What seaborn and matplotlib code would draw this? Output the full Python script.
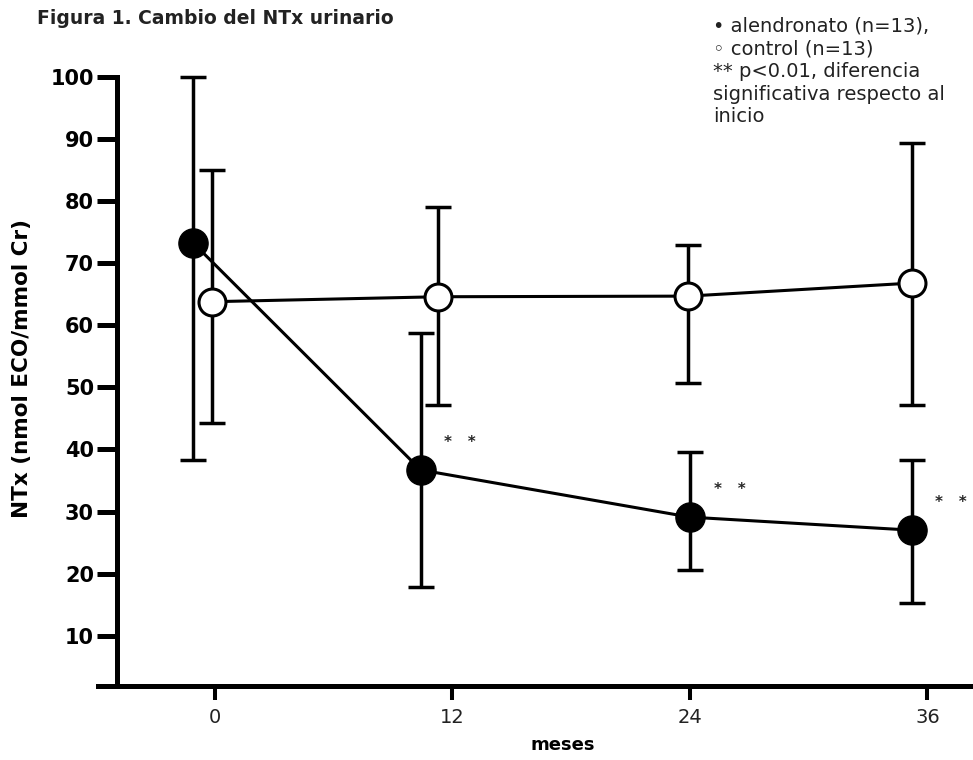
import pandas as pd
import matplotlib
matplotlib.use("Agg")
import matplotlib.pyplot as plt
import seaborn as sns

# values (NTx, nmol ECO/mmol Cr)
meses = [0, 12, 24, 36]
x_alendronato = [-1.1, 10.4, 24.0, 35.2]
alendronato = [73.3, 36.7, 29.1, 27.0]
alendronato_sup = [100.0, 58.8, 39.6, 38.3]
alendronato_inf = [38.3, 17.9, 20.6, 15.3]
x_control = [-0.15, 11.3, 23.9, 35.2]
control = [63.8, 64.6, 64.7, 66.8]
control_sup = [85.0, 79.1, 72.9, 89.4]
control_inf = [44.3, 47.2, 50.7, 47.2]
y_ticks = [10, 20, 30, 40, 50, 60, 70, 80, 90, 100]
significativo = [True, True, True]   # ** at 12, 24, 36 months

df_alen = pd.DataFrame({"mes": x_alendronato, "ntx": alendronato,
                        "inf": alendronato_inf, "sup": alendronato_sup})
df_ctrl = pd.DataFrame({"mes": x_control, "ntx": control,
                        "inf": control_inf, "sup": control_sup})

sns.set_theme(style="ticks")
plt.rcParams['font.family'] = ['DejaVu Sans']

fig = plt.figure(figsize=(9.73, 7.6), dpi=100)
ax = fig.add_axes([0.1007, 0.0974, 0.8993, 0.8013])

# error bars behind the markers
for d in (df_alen, df_ctrl):
    ax.errorbar(d["mes"], d["ntx"], yerr=[d["ntx"] - d["inf"], d["sup"] - d["ntx"]],
                fmt="none", ecolor="black", elinewidth=2.5, capsize=9.7,
                capthick=2.5, zorder=2, clip_on=False)

sns.lineplot(data=df_ctrl, x="mes", y="ntx", ax=ax, estimator=None, sort=False,
             color="black", linewidth=2.2, marker="o", markersize=19.4,
             markerfacecolor="white", markeredgecolor="black",
             markeredgewidth=2.2, zorder=3, legend=False, clip_on=False)
sns.lineplot(data=df_alen, x="mes", y="ntx", ax=ax, estimator=None, sort=False,
             color="black", linewidth=2.2, marker="o", markersize=21,
             markerfacecolor="black", markeredgecolor="black",
             markeredgewidth=1, zorder=4, legend=False, clip_on=False)

# ** marks next to the alendronato points
for i, sig in enumerate(significativo, start=1):
    if sig:
        ax.annotate("*   *", (x_alendronato[i], alendronato[i]), xytext=(17, 20),
                    textcoords="offset points", ha="left", va="center",
                    fontsize=11, fontweight="bold", annotation_clip=False)

ax.set_xlim(-5.9, 38.3)
ax.set_ylim(1.9, 100)
ax.spines['left'].set_position(('data', -4.95))
ax.spines['top'].set_visible(False)
ax.spines['right'].set_visible(False)
for s in ('left', 'bottom'):
    ax.spines[s].set_linewidth(3.6)
    ax.spines[s].set_color('black')

ax.set_xticks(meses)
ax.set_yticks(y_ticks)
ax.tick_params(axis='y', length=14.4, width=3.6, color='black', pad=2,
               labelsize=15, labelcolor='black')
ax.tick_params(axis='x', length=10, width=2.9, color='black', pad=6,
               labelsize=14, labelcolor='#222222')
for lab in ax.get_yticklabels():
    lab.set_fontweight('bold')

ax.set_xlabel("meses", fontsize=13, fontweight="bold", color="black",
              va="center")
ax.set_ylabel("NTx (nmol ECO/mmol Cr)", fontsize=15.5, fontweight="bold",
              color="black", va="center")
ax.xaxis.set_label_coords(0.531, -0.097)
ax.yaxis.set_label_coords(-0.087, 0.522)

fig.text(0.038, 0.976, "Figura 1. Cambio del NTx urinario", fontsize=13.5,
         fontweight="bold", fontstretch="normal", color="#222222",
         va="center", ha="left")
fig.text(0.733, 0.978,
         "\u2022 alendronato (n=13),\n\u25e6 control (n=13)\n** p<0.01, diferencia\n"
         "significativa respecto al\ninicio",
         fontsize=14, color="#222222", va="top", ha="left", linespacing=1.24)

fig.savefig("out.png", dpi=100, facecolor="white")
